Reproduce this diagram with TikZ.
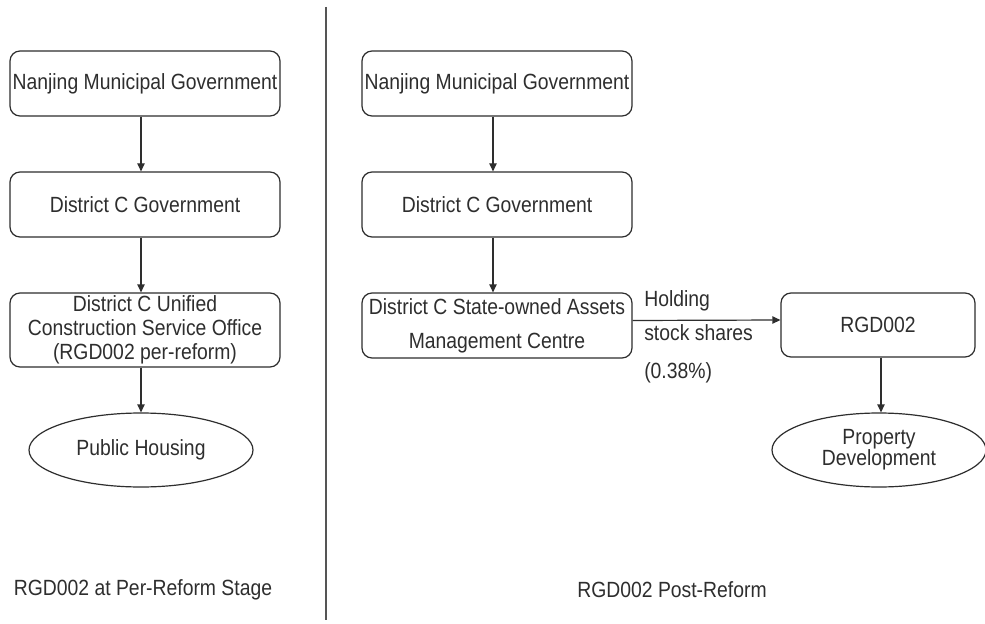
\documentclass[tikz,border=0pt]{standalone}
\usepackage{fontspec}
\setmainfont{Liberation Sans}[FakeStretch=0.88]
\usetikzlibrary{shapes.geometric,arrows.meta}
\definecolor{ink}{HTML}{2E2E2E}
\definecolor{sep}{HTML}{555555}
\begin{document}
\begin{tikzpicture}[x=0.75pt,y=-0.75pt,
  every node/.style={text=ink,font=\fontsize{16.5pt}{18pt}\selectfont},
  box/.style={draw=ink,line width=0.9pt,rounded corners=7.5pt,rectangle,inner sep=0pt,
    minimum width=202.5pt,minimum height=48.75pt,align=center},
  oval/.style={draw=ink,line width=0.9pt,ellipse,inner sep=0pt,minimum height=55.5pt,align=center},
  arr/.style={draw=ink,line width=0.9pt,-{Triangle[length=6pt,width=5.5pt]}},
  captxt/.style={font=\fontsize{16.5pt}{18pt}\selectfont}]
\useasboundingbox (0,0) rectangle (985,624);
\fill[white] (0,0) rectangle (985,624);
% separator
\draw[sep,line width=1.5pt] (326,7) -- (326,620);
% left column
\node[box] (L1) at (145,83.5) {Nanjing Municipal Government};
\node[box] (L2) at (145,204.5) {District C Government};
\node[box,minimum height=55.5pt,font=\fontsize{16.5pt}{18pt}\selectfont] (L3) at (145,330)
  {District C Unified\\Construction Service Office\\(RGD002 per-reform)};
\node[oval,minimum width=168pt] (LE) at (141,450) {Public Housing};
\draw[arr] (L1.south -| LE.north) -- (L2.north -| LE.north);
\draw[arr] (L2.south -| LE.north) -- (L3.north -| LE.north);
\draw[arr] (L3.south -| LE.north) -- (LE.north);
\node[captxt] (capL) at (143,590) {RGD002 at Per-Reform Stage};
% right column
\node[box] (R1) at (497,83.5) {Nanjing Municipal Government};
\node[box] (R2) at (497,204.5) {District C Government};
\node[box,font=\fontsize{16.5pt}{25.5pt}\selectfont] (R3) at (497,325.5)
  {District C State-owned Assets\\Management Centre};
\node[box,minimum width=145.5pt,minimum height=48pt] (RG) at (878,325) {RGD002};
\node[oval,minimum width=160.5pt,font=\fontsize{16.5pt}{15.75pt}\selectfont] (PE) at (879,450)
  {Property\\Development};
\draw[arr] ([xshift=-3pt]R1.south) -- ([xshift=-3pt]R2.north);
\draw[arr] ([xshift=-3pt]R2.south) -- ([xshift=-3pt]R3.north);
\draw[arr] ([yshift=3.75pt]R3.east) -- ([yshift=3.75pt]RG.west);
\draw[arr] ([xshift=2.25pt]RG.south) -- ([xshift=2.25pt]RG.south |- PE.north);
\node[anchor=west,inner sep=0pt,align=left,font=\fontsize{16.5pt}{25.5pt}\selectfont] (hold) at (644,337)
  {Holding\\stock shares\\[3pt](0.38\%)};
\node[captxt] (capR) at (672,590) {RGD002 Post-Reform};
\end{tikzpicture}
\end{document}
